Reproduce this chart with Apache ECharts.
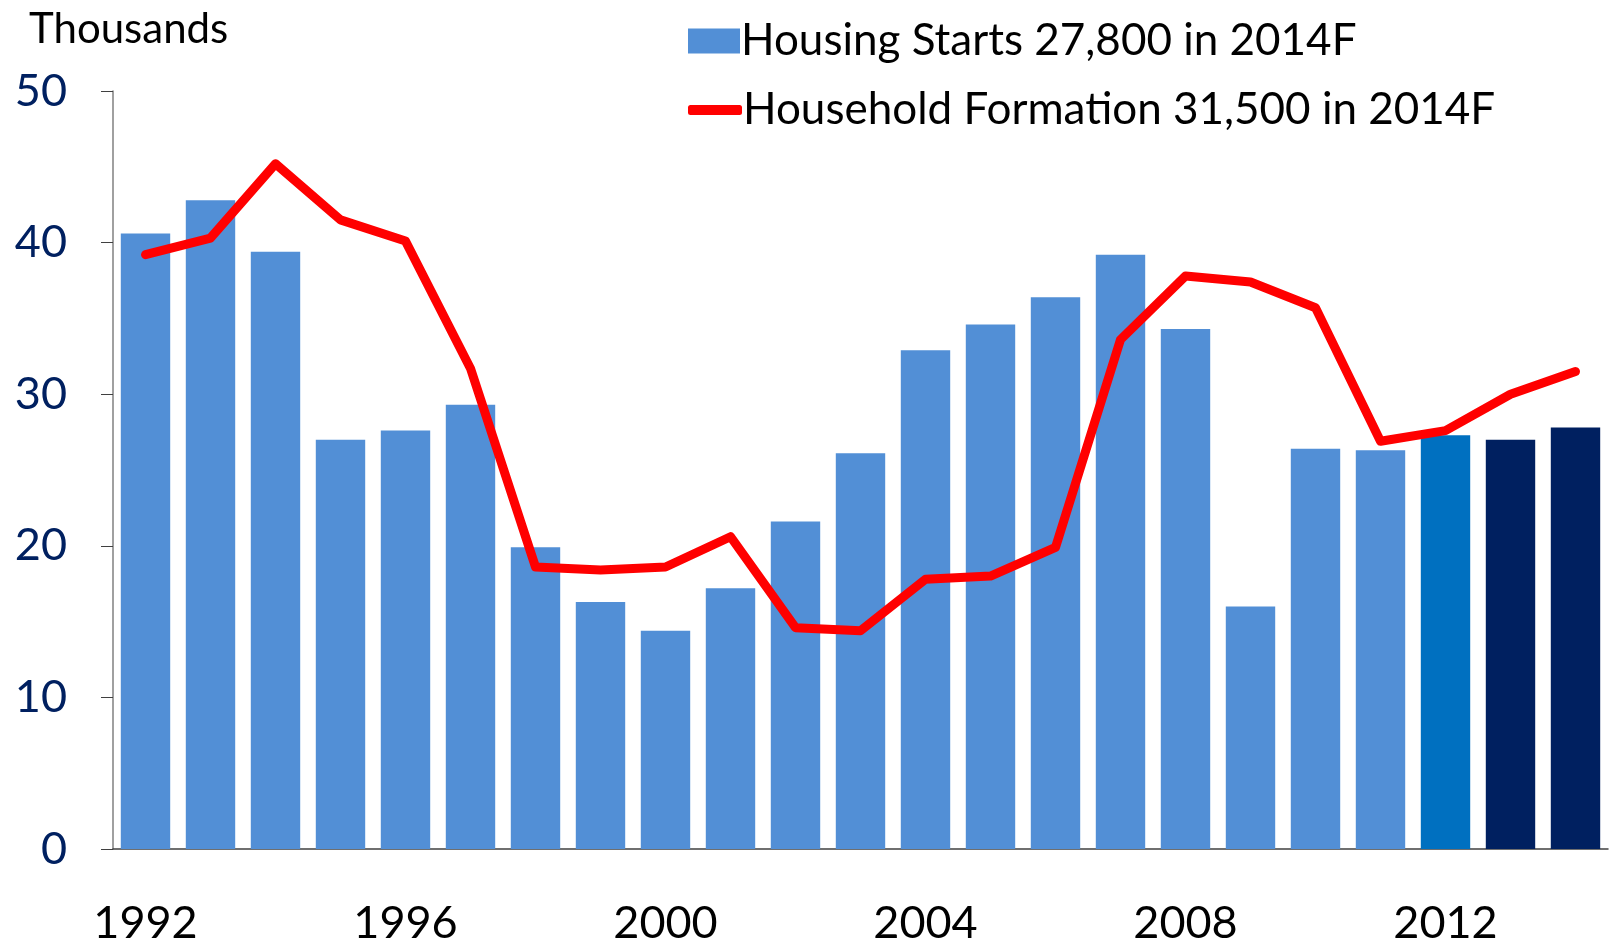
<!DOCTYPE html>
<html>
<head>
<meta charset="utf-8">
<script src="https://cdn.jsdelivr.net/npm/echarts@6/dist/echarts.min.js"></script>
<style>
  html, body { margin: 0; padding: 0; background: #fff; }
  #main { width: 1614px; height: 951px; }
</style>
</head>
<body>
<div id="main"></div>
<script>
// years on the x axis
var years = ['1992', '1993', '1994', '1995', '1996', '1997', '1998', '1999', '2000', '2001',
  '2002', '2003', '2004', '2005', '2006', '2007', '2008', '2009', '2010', '2011',
  '2012', '2013', '2014'];

// housing starts, thousands
var housingStarts = [40.6, 42.8, 39.4, 27.0, 27.6, 29.3, 19.9, 16.3, 14.4, 17.2,
  21.6, 26.1, 32.9, 34.6, 36.4, 39.2, 34.3, 16.0, 26.4, 26.3,
  27.3, 27.0, 27.8];

// household formation, thousands
var householdFormation = [39.2, 40.3, 45.2, 41.5, 40.1, 31.7, 18.6, 18.4, 18.6, 20.6,
  14.6, 14.4, 17.8, 18.0, 19.9, 33.6, 37.8, 37.4, 35.7, 26.9,
  27.6, 30.0, 31.5];

var startsName = 'Housing Starts 27,800 in 2014F';
var formationName = 'Household Formation 31,500 in 2014F';

// 2012 estimate and forecasts get darker colours
var barColors = { '2012': '#0070c0', '2013': '#002060', '2014': '#002060' };

var FONT = 'Lato';
var legendText = { fontFamily: FONT, fontSize: 44, color: '#000', padding: [0, 0, 0, -4] };

var chart = echarts.init(document.getElementById('main'));

var barData = housingStarts.map(function (v, i) {
  var c = barColors[years[i]];
  return c ? { value: v, itemStyle: { color: c } } : v;
});

chart.setOption({
  animation: false,
  backgroundColor: '#fff',
  title: {
    text: 'Thousands',
    left: 24,
    top: 3,
    textStyle: { fontFamily: FONT, fontSize: 42, fontWeight: 'normal', color: '#000' }
  },
  legend: [
    {
      left: 683,
      top: 14,
      itemWidth: 52,
      itemHeight: 25,
      textStyle: legendText,
      data: [{ name: startsName, icon: 'rect' }]
    },
    {
      left: 683,
      top: 83,
      itemWidth: 54,
      itemHeight: 10,
      textStyle: legendText,
      data: [{ name: formationName, icon: 'roundRect', itemStyle: { color: '#ff0000' } }]
    }
  ],
  grid: { left: 113, right: 6, top: 91, bottom: 102 },
  xAxis: {
    type: 'category',
    data: years,
    axisLine: { lineStyle: { color: '#404040', width: 1.5 } },
    axisTick: { interval: 3, length: 16, lineStyle: { color: '#808080' } },
    axisLabel: { interval: 3, margin: 52, fontFamily: FONT, fontSize: 45, color: '#000' }
  },
  yAxis: {
    type: 'value',
    min: 0,
    max: 50,
    interval: 10,
    splitLine: { show: false },
    axisLine: { show: true, lineStyle: { color: '#808080', width: 1.5 } },
    axisTick: { show: true, length: 12, lineStyle: { color: '#404040' } },
    axisLabel: { margin: 46, fontFamily: FONT, fontSize: 45, color: '#002060' }
  },
  series: [
    {
      name: startsName,
      type: 'bar',
      data: barData,
      barCategoryGap: '24%',
      itemStyle: { color: '#528fd6' }
    },
    {
      name: formationName,
      type: 'line',
      data: householdFormation,
      symbol: 'none',
      lineStyle: { color: '#ff0000', width: 9, cap: 'round', join: 'round' },
      itemStyle: { color: '#ff0000' },
      z: 3
    }
  ]
});
</script>
</body>
</html>
